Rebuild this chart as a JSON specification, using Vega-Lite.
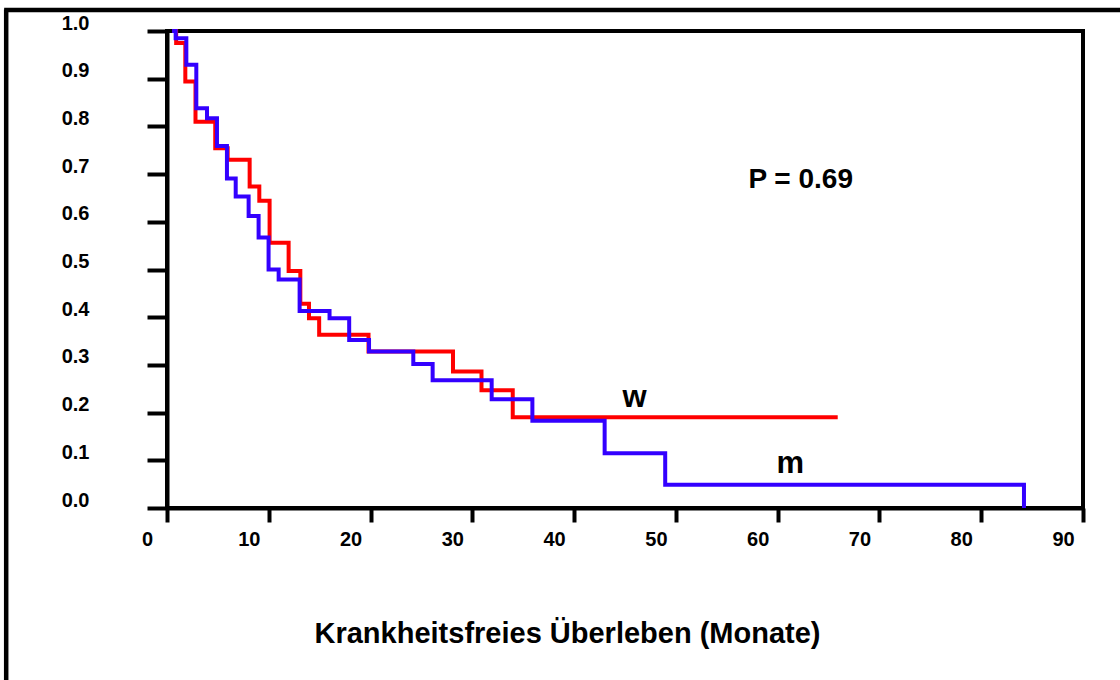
{
  "$schema": "https://vega.github.io/schema/vega-lite/v6.json",
  "autosize": {"type": "none"},
  "width": 916,
  "height": 477,
  "padding": {"left": 167, "top": 31, "right": 37, "bottom": 172},
  "background": "white",
  "config": {
    "font": "Liberation Sans",
    "view": {"stroke": "black", "strokeWidth": 4}
  },
  "datasets": {
    "km": [
      {"t": 0.5, "s": 1.0, "g": "w"},
      {"t": 0.9, "s": 0.975, "g": "w"},
      {"t": 1.8, "s": 0.894, "g": "w"},
      {"t": 2.8, "s": 0.81, "g": "w"},
      {"t": 4.74, "s": 0.754, "g": "w"},
      {"t": 5.96, "s": 0.73, "g": "w"},
      {"t": 8.12, "s": 0.674, "g": "w"},
      {"t": 9.07, "s": 0.644, "g": "w"},
      {"t": 10.08, "s": 0.556, "g": "w"},
      {"t": 11.95, "s": 0.497, "g": "w"},
      {"t": 13.1, "s": 0.428, "g": "w"},
      {"t": 13.95, "s": 0.398, "g": "w"},
      {"t": 14.95, "s": 0.363, "g": "w"},
      {"t": 19.8, "s": 0.328, "g": "w"},
      {"t": 28.1, "s": 0.286, "g": "w"},
      {"t": 30.9, "s": 0.247, "g": "w"},
      {"t": 33.97, "s": 0.19, "g": "w"},
      {"t": 65.9, "s": 0.19, "g": "w"},
      {"t": 0.5, "s": 1.0, "g": "m"},
      {"t": 0.85, "s": 0.985, "g": "m"},
      {"t": 1.9, "s": 0.929, "g": "m"},
      {"t": 2.88, "s": 0.838, "g": "m"},
      {"t": 3.93, "s": 0.817, "g": "m"},
      {"t": 4.91, "s": 0.759, "g": "m"},
      {"t": 5.89, "s": 0.691, "g": "m"},
      {"t": 6.75, "s": 0.653, "g": "m"},
      {"t": 8.02, "s": 0.612, "g": "m"},
      {"t": 9.0, "s": 0.567, "g": "m"},
      {"t": 9.98, "s": 0.5, "g": "m"},
      {"t": 10.97, "s": 0.479, "g": "m"},
      {"t": 13.03, "s": 0.413, "g": "m"},
      {"t": 15.97, "s": 0.398, "g": "m"},
      {"t": 17.9, "s": 0.352, "g": "m"},
      {"t": 19.85, "s": 0.328, "g": "m"},
      {"t": 24.2, "s": 0.302, "g": "m"},
      {"t": 26.1, "s": 0.268, "g": "m"},
      {"t": 31.9, "s": 0.228, "g": "m"},
      {"t": 35.9, "s": 0.183, "g": "m"},
      {"t": 43.0, "s": 0.115, "g": "m"},
      {"t": 48.95, "s": 0.049, "g": "m"},
      {"t": 84.2, "s": 0.0, "g": "m"}
    ],
    "notes": [
      {"t": 62.26, "s": 0.687, "label": "P = 0.69", "kind": "p"},
      {"t": 45.95, "s": 0.231, "label": "w", "kind": "g"},
      {"t": 61.23, "s": 0.093, "label": "m", "kind": "g"}
    ]
  },
  "layer": [
    {
      "data": {"values": [{}]},
      "mark": {"type": "rule", "color": "black", "strokeWidth": 4.5, "clip": false},
      "encoding": {
        "x": {"datum": -15.8, "type": "quantitative", "scale": {"domain": [0, 90], "nice": false, "zero": false}},
        "y": {"datum": 1.045, "type": "quantitative", "scale": {"domain": [0, 1], "nice": false}},
        "y2": {"datum": -0.45}
      }
    },
    {
      "data": {"values": [{}]},
      "mark": {"type": "rule", "color": "black", "strokeWidth": 4.5, "clip": false},
      "encoding": {
        "x": {"datum": -16.0, "type": "quantitative"},
        "x2": {"datum": 96},
        "y": {"datum": 1.044, "type": "quantitative"}
      }
    },
    {
      "data": {"name": "km"},
      "transform": [{"filter": "datum.g === 'w'"}],
      "mark": {"type": "line", "interpolate": "step-after", "strokeWidth": 4, "color": "#ff0000", "strokeJoin": "miter"},
      "encoding": {
        "x": {
          "field": "t", "type": "quantitative",
          "scale": {"domain": [0, 90], "nice": false, "zero": false},
          "axis": {
            "values": [0, 10, 20, 30, 40, 50, 60, 70, 80, 90],
            "format": "d",
            "grid": false,
            "domainColor": "black", "domainWidth": 4,
            "tickColor": "black", "tickWidth": 4, "tickSize": 14,
            "labelFont": "Liberation Sans", "labelFontWeight": "bold", "labelFontSize": 20, "labelColor": "black",
            "labelPadding": 7, "labelOffset": -20, "labelFlush": false, "labelOverlap": false,
            "title": "Krankheitsfreies Überleben (Monate)",
            "titleFont": "Liberation Sans", "titleFontWeight": "bold", "titleFontSize": 29, "titleColor": "black",
            "titleX": 400, "titleY": 125, "titleAnchor": null, "titleAlign": "center", "titleBaseline": "middle"
          }
        },
        "y": {
          "field": "s", "type": "quantitative",
          "scale": {"domain": [0, 1], "nice": false},
          "axis": {
            "values": [0, 0.1, 0.2, 0.3, 0.4, 0.5, 0.6, 0.7, 0.8, 0.9, 1.0],
            "format": ".1f",
            "grid": false,
            "domainColor": "black", "domainWidth": 4,
            "tickColor": "black", "tickWidth": 4, "tickSize": 20,
            "labelFont": "Liberation Sans", "labelFontWeight": "bold", "labelFontSize": 20, "labelColor": "black",
            "labelPadding": 58, "labelOffset": -8, "labelFlush": false, "labelOverlap": false,
            "title": null
          }
        }
      }
    },
    {
      "data": {"name": "km"},
      "transform": [{"filter": "datum.g === 'm'"}],
      "mark": {"type": "line", "interpolate": "step-after", "strokeWidth": 4, "color": "#3300ff", "strokeJoin": "miter"},
      "encoding": {
        "x": {"field": "t", "type": "quantitative"},
        "y": {"field": "s", "type": "quantitative"}
      }
    },
    {
      "data": {"name": "notes"},
      "transform": [{"filter": "datum.kind === 'p'"}],
      "mark": {"type": "text", "fontWeight": "bold", "fontSize": 28, "color": "black", "align": "center", "baseline": "middle", "font": "Liberation Sans"},
      "encoding": {
        "x": {"field": "t", "type": "quantitative"},
        "y": {"field": "s", "type": "quantitative"},
        "text": {"field": "label"}
      }
    },
    {
      "data": {"name": "notes"},
      "transform": [{"filter": "datum.kind === 'g'"}],
      "mark": {"type": "text", "fontWeight": "bold", "fontSize": 31, "color": "black", "align": "center", "baseline": "middle", "font": "Liberation Sans"},
      "encoding": {
        "x": {"field": "t", "type": "quantitative"},
        "y": {"field": "s", "type": "quantitative"},
        "text": {"field": "label"}
      }
    }
  ]
}
